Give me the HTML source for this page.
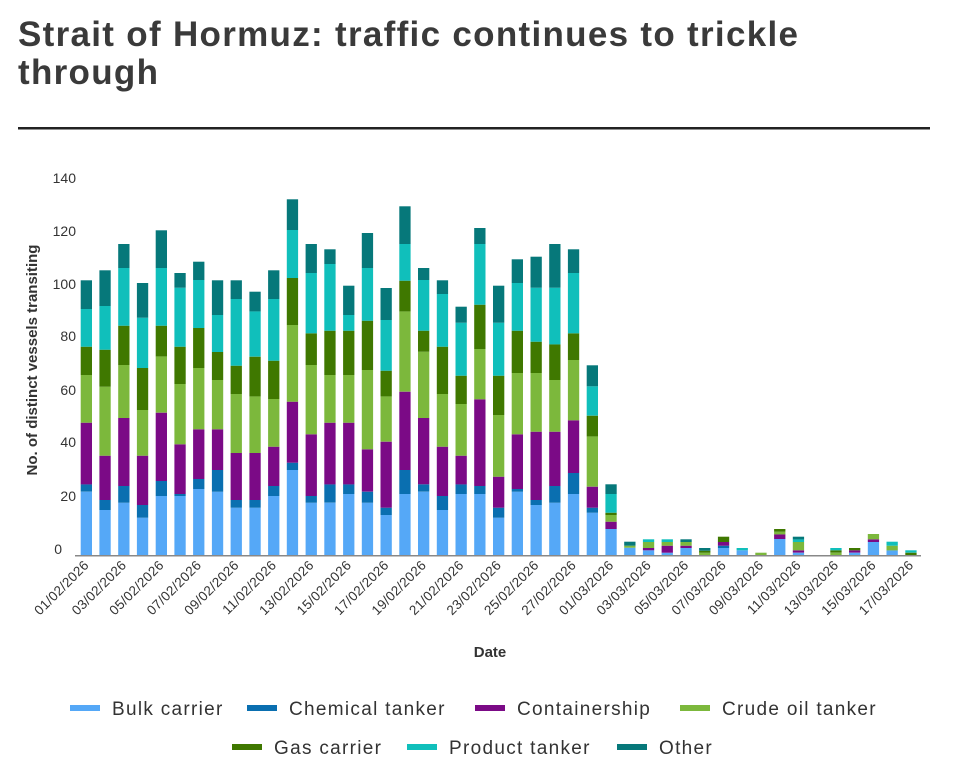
<!DOCTYPE html>
<html><head><meta charset="utf-8"><style>
body{margin:0;background:#fff;width:954px;height:777px;overflow:hidden;font-family:"Liberation Sans",sans-serif}
</style></head><body>
<svg id="s" width="954" height="777" xmlns="http://www.w3.org/2000/svg" font-family="Liberation Sans, sans-serif">
<text x="18" y="46" font-size="35" font-weight="bold" fill="#3a3a3a" letter-spacing="1.3">Strait of Hormuz: traffic continues to trickle</text>
<text x="18" y="84" font-size="35" font-weight="bold" fill="#3a3a3a" letter-spacing="1.3">through</text>
<rect x="18" y="127" width="912" height="2.5" fill="#222"/>
<g font-size="14" fill="#333" text-anchor="end">
<text x="76" y="183">140</text><text x="76" y="236">120</text><text x="76" y="289">100</text><text x="76" y="341">80</text>
<text x="76" y="395">60</text><text x="76" y="447">40</text><text x="76" y="501">20</text><text x="62" y="554">0</text>
</g>
<text transform="translate(37,360) rotate(-90)" font-size="15" font-weight="bold" fill="#333" text-anchor="middle">No. of distinct vessels transiting</text>
<text x="490" y="657" font-size="15" font-weight="bold" fill="#333" text-anchor="middle">Date</text>
<g id="bars"></g>
<rect x="75" y="555" width="846" height="1.5" fill="#888"/>
<g id="xl" font-size="13.5" fill="#333" text-anchor="end" letter-spacing="0.3"></g>
<g font-size="19" fill="#333" letter-spacing="1.3">
<rect x="70" y="705" width="30" height="6" fill="#55A8F7"/><text x="112" y="715">Bulk carrier</text>
<rect x="247" y="705" width="30" height="6" fill="#0A6FB0"/><text x="289" y="715">Chemical tanker</text>
<rect x="475" y="705" width="30" height="6" fill="#7B0A86"/><text x="517" y="715">Containership</text>
<rect x="680" y="705" width="30" height="6" fill="#7CB83C"/><text x="722" y="715">Crude oil tanker</text>
<rect x="232" y="744" width="30" height="6" fill="#3F7800"/><text x="274" y="754">Gas carrier</text>
<rect x="407" y="744" width="30" height="6" fill="#10BFBB"/><text x="449" y="754">Product tanker</text>
<rect x="617" y="744" width="30" height="6" fill="#06787A"/><text x="659" y="754">Other</text>
</g>
</svg>
<script>
var C=["#55A8F7","#0A6FB0","#7B0A86","#7CB83C","#3F7800","#10BFBB","#06787A"];
var A=[[905,883,698,555,470,357,271],[960,930,797,590,479,348,241],[938,888,684,525,407,234,162],[983,945,797,660,534,383,279],[918,873,668,499,407,234,121],[918,912,763,582,470,293,249],[897,867,718,534,414,270,215],[905,840,718,570,486,375,271],[953,930,789,612,527,327,271],[953,930,789,619,500,364,305],[918,888,770,627,512,327,241],[840,818,635,405,264,120,28],[938,918,733,525,430,249,162],[938,883,698,555,422,222,178],
[912,883,698,555,422,375,287],[938,905,778,540,392,234,129],[975,953,755,619,542,390,294],[912,840,605,364,272,162,49],[905,883,684,485,422,270,234],[960,918,770,612,470,312,271],[912,883,797,642,557,398,350],[912,888,628,477,344,162,114],[983,953,860,675,557,398,287],[905,897,733,549,422,279,208],[945,930,725,549,455,293,200],[938,888,725,570,463,293,162],[912,849,691,510,430,249,178],[968,953,890,739,677,589,526],[1017,1017,995,975,968,912,883]];
var B=[[203,203,203,197,197,197,185],[211,211,204,186,186,178,178],[218,218,197,186,186,178,178],[204,204,197,186,186,186,178],[225,225,225,218,212,212,204],[204,197,186,186,170,170,170],[211,211,211,211,211,204,204],[225,225,225,218,218,218,218],[177,177,163,155,147,147,147],[218,218,211,186,186,178,170],[225,225,225,225,225,225,225],[225,225,225,218,211,204,204],[218,218,211,211,204,204,204],[186,186,178,162,162,162,162],[211,211,211,197,197,185,185],[225,225,225,225,218,211,211]];
var g="",i,j,x,prev,y;
var all=A.map(function(r){return r.map(function(v){return v/3+190})}).concat(B.map(function(r){return r.map(function(v){return v/3+480})}));
for(i=0;i<all.length;i++){x=80.7+i*18.74;prev=555;
for(j=0;j<7;j++){y=all[i][j];if(prev-y>0.3){g+='<rect x="'+x.toFixed(1)+'" y="'+y.toFixed(1)+'" width="11.3" height="'+(prev-y).toFixed(1)+'" fill="'+C[j]+'"/>';}prev=Math.min(prev,y);}}
document.getElementById("bars").innerHTML=g;
var xl="";
for(i=0;i<45;i+=2){var d=i<28?i+1:i-27,m=i<28?"02":"03";var lab=(d<10?"0":"")+d+"/"+m+"/2026";x=80.7+i*18.74+9;
xl+='<text transform="translate('+x.toFixed(1)+',566) rotate(-45)">'+lab+'</text>';}
document.getElementById("xl").innerHTML=xl;
</script>
</body></html>
